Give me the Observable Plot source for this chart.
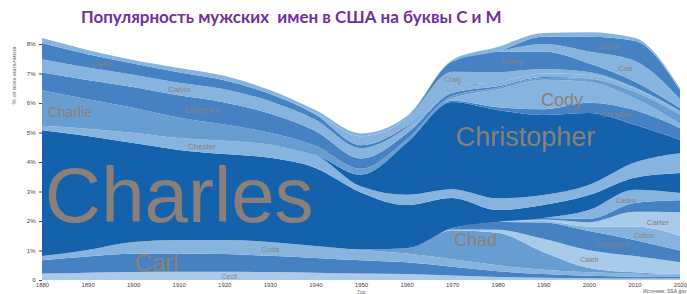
<!DOCTYPE html>
<html><head><meta charset="utf-8">
<script src="https://cdn.jsdelivr.net/npm/d3@7"></script>
<script src="https://cdn.jsdelivr.net/npm/@observablehq/plot@0.6"></script>
<style>
body{margin:0;background:#fff;width:687px;height:294px;overflow:hidden;font-family:"Liberation Sans",Arial,sans-serif}
#title{height:30px;line-height:34px;padding-left:81px;font-family:Lato,"Open Sans",sans-serif;font-weight:bold;font-size:17px;color:#7030A0;white-space:pre}
#chart svg{overflow:visible}
</style></head><body>
<div id="title">Популярность мужских  имен в США на буквы C и M</div>
<div id="chart"></div>
<script>
// Years (x axis)
const years = [1880,1890,1900,1910,1920,1930,1940,1950,1960,1970,1980,1990,2000,2010,2020];
// Y ticks (% of boys)
const yTicks = [0,1,2,3,4,5,6,7,8];

// Series values, % of male births (bottom -> top of the stack)
const Cecil      = [0.22,0.25,0.27,0.28,0.28,0.27,0.25,0.22,0.20,0.15,0.10,0.08,0.06,0.05,0.05];
const Carl       = [0.45,0.55,0.62,0.62,0.60,0.55,0.50,0.45,0.40,0.30,0.20,0.12,0.08,0.06,0.05];
const Curtis     = [0.14,0.22,0.40,0.46,0.48,0.47,0.40,0.35,0.30,0.25,0.20,0.15,0.12,0.10,0.08];
const Chad       = [0,0,0,0,0,0,0,0.02,0.18,0.99,1.10,0.60,0.15,0.05,0.02];
const Caleb      = [0,0,0,0,0,0,0,0,0,0.02,0.10,0.45,0.60,0.55,0.40];
const Cameron    = [0,0,0,0,0,0,0,0,0,0.05,0.27,0.55,0.65,0.55,0.40];
const Colton     = [0,0,0,0,0,0,0,0,0,0,0,0.05,0.15,0.45,0.50];
const Carter     = [0,0,0,0,0,0,0,0,0,0,0,0.05,0.15,0.50,0.80];
const Cooper     = [0,0,0,0,0,0,0,0,0,0,0,0.05,0.11,0.30,0.40];
const Caden      = [0,0,0,0,0,0,0,0,0,0,0,0,0.30,0.45,0.25];
const Charles    = [4.27,3.86,3.35,3.05,2.91,2.85,2.65,1.93,1.46,1.02,0.40,0.44,0.51,0.41,0.68];
const Chester    = [0.15,0.25,0.35,0.40,0.45,0.45,0.45,0.20,0.35,0.30,0.40,0.34,0.34,0.51,0.67];
const Christopher= [0,0,0,0,0,0,0,0.40,1.75,2.95,2.99,2.71,2.44,1.28,0.45];
const Christian  = [0,0,0,0,0,0,0,0,0,0.05,0.10,0.20,0.35,0.50,0.40];
const Cody       = [0,0,0,0,0,0,0,0,0,0.08,0.60,1.00,0.70,0.40,0.15];
const Charlie    = [1.20,1.00,0.85,0.70,0.55,0.40,0.30,0.20,0.12,0.08,0.06,0.06,0.10,0.20,0.30];
const Clarence   = [0.60,0.65,0.70,0.75,0.75,0.65,0.50,0.35,0.20,0.10,0.05,0.03,0.02,0.02,0.02];
const Calvin     = [0.45,0.42,0.42,0.43,0.45,0.42,0.38,0.35,0.20,0.20,0.12,0.12,0.12,0.10,0.08];
const Clyde      = [0.55,0.45,0.38,0.35,0.30,0.25,0.18,0.10,0.05,0.02,0.01,0,0,0,0];
const Craig      = [0,0,0,0,0,0,0.05,0.30,0.25,0.50,0.35,0.15,0.10,0.05,0.03];
const Corey      = [0,0,0,0,0,0,0,0,0.02,0.35,0.70,0.60,0.30,0.20,0.10];
const Cole       = [0,0,0,0,0,0,0,0,0,0,0,0.25,0.40,0.70,0.30];
const Connor     = [0,0,0,0,0,0,0,0,0,0,0,0.25,0.50,0.68,0.30];
const Cyrus      = [0.17,0.15,0.12,0.15,0.15,0.13,0.10,0.10,0.07,0.05,0.15,0.12,0.15,0.10,0.07];

const seriesNames = ["Cecil","Carl","Curtis","Chad","Caleb","Cameron","Colton","Carter","Cooper","Caden",
  "Charles","Chester","Christopher","Christian","Cody","Charlie","Clarence","Calvin","Clyde","Craig",
  "Corey","Cole","Connor","Cyrus"];
const seriesValues = [Cecil,Carl,Curtis,Chad,Caleb,Cameron,Colton,Carter,Cooper,Caden,
  Charles,Chester,Christopher,Christian,Cody,Charlie,Clarence,Calvin,Clyde,Craig,
  Corey,Cole,Connor,Cyrus];

// Palette
const D = "#1461AC", M = "#4682C3", M2 = "#689DD2", L = "#86B4DE", P = "#A8CBEA";
const seriesColors = [P,M,L,M2,P,M,L,P,M,L, D,L,D,M,L,M2,M,L,M,L, M,L,M,L];

// Labels: name, year, font size, offset (in %)
const labelNames  = ["Charles","Christopher","Carl","Chad","Cody","Charlie","Clarence","Chester","Calvin","Clyde","Cecil","Curtis","Craig","Corey","Cole","Connor","Christian","Carter","Caden","Cameron","Colton","Caleb"];
const labelYears  = [1910,1986,1905,1975,1994,1886,1915,1915,1910,1893,1921,1930,1970,1983,2008,2004,2006,2015,2008,2005,2012,2000];
const labelSizes  = [78,27,24,18,18,14,9,8,8,8,7,7,7,8,7,7,8,8,7,8,7,7];
const labelShifts = [-0.05,0.6,0,0.24,-0.2,0,0,0,0,0,0,0,0,0,0,0,0,0,0,0,0,0];

// long table for the stacked areas
const table = [];
seriesNames.forEach((n, k) => years.forEach((yr, i) => table.push({name: n, year: yr, value: seriesValues[k][i]})));

function valAt(arr, yr) {
  const i = Math.min(Math.floor((yr - years[0]) / 10), years.length - 2);
  const t = (yr - years[i]) / (years[i + 1] - years[i]);
  return arr[i] * (1 - t) + arr[i + 1] * t;
}
const labels = labelNames.map((n, j) => {
  const k = seriesNames.indexOf(n);
  let below = 0;
  for (let q = 0; q < k; q++) below += valAt(seriesValues[q], labelYears[j]);
  const v = valAt(seriesValues[k], labelYears[j]);
  return {name: n, year: labelYears[j], size: labelSizes[j], pos: below + v / 2 + labelShifts[j]};
});

const chart = Plot.plot({
  width: 687, height: 264,
  marginLeft: 42, marginRight: 7, marginTop: 14, marginBottom: 14,
  style: {fontFamily: "Liberation Sans, Arial, sans-serif", fontSize: "6px", color: "#444", background: "transparent", overflow: "visible"},
  x: {domain: [years[0], years[years.length - 1]], ticks: years, tickFormat: d => String(d), tickSize: 0, tickPadding: 2, label: null},
  y: {domain: [0, 8], ticks: yTicks, tickFormat: d => d === 0 ? "0" : d + "%", tickSize: 3, tickPadding: 4, label: null},
  color: {domain: seriesNames, range: seriesColors},
  marks: [
    Plot.areaY(table, {x: "year", y: "value", z: "name", fill: "name", order: seriesNames, curve: "monotone-x"}),
    Plot.text(labels, {x: "year", y: "pos", text: "name", fontSize: d => d.size, fill: "#8b8079", fontFamily: "Liberation Sans, Arial, sans-serif"}),
    Plot.text(["Год"], {text: d => d, frameAnchor: "bottom", dy: 13, fontSize: 5, fill: "#666"}),
    Plot.text(["% от всех мальчиков"], {text: d => d, frameAnchor: "top-left", rotate: -90, dx: -31, dy: 60, fontSize: 6, fill: "#666"}),
    Plot.text(["Источник: SSA.gov"], {text: d => d, frameAnchor: "bottom-right", dx: 6, dy: 12, textAnchor: "end", fontSize: 5, fill: "#555"})
  ]
});
document.getElementById("chart").append(chart);
</script>
</body></html>
